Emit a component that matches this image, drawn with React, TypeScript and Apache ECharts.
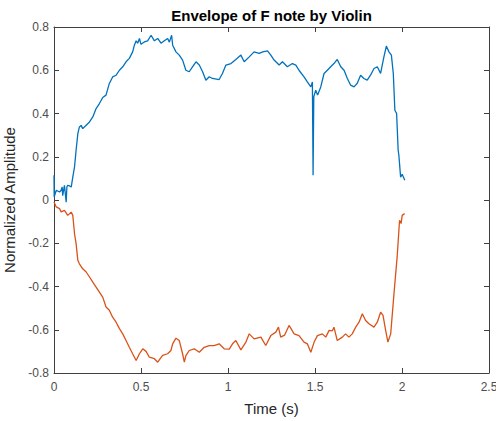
import React, { useEffect, useRef } from "react";
import * as echarts from "echarts";

// Upper envelope (time in seconds, normalized amplitude)
const upperTime = [
  0, 0.001, 0.013, 0.032, 0.041, 0.047, 0.05, 0.06, 0.07, 0.074, 0.079, 0.09, 0.099, 0.108,
  0.118, 0.127, 0.137, 0.146, 0.156, 0.165, 0.185, 0.204, 0.223, 0.242, 0.261, 0.28, 0.299,
  0.318, 0.337, 0.357, 0.376, 0.395, 0.414, 0.433, 0.452, 0.462, 0.472, 0.481, 0.491, 0.5,
  0.519, 0.538, 0.558, 0.577, 0.596, 0.615, 0.634, 0.653, 0.663, 0.676, 0.682, 0.701, 0.72,
  0.739, 0.758, 0.777, 0.796, 0.816, 0.835, 0.854, 0.873, 0.892, 0.911, 0.949, 0.968, 0.988,
  1.017, 1.045, 1.074, 1.093, 1.122, 1.15, 1.179, 1.2, 1.227, 1.246, 1.265, 1.294, 1.313,
  1.341, 1.37, 1.39, 1.408, 1.437, 1.456, 1.476, 1.485, 1.489, 1.493, 1.504, 1.515, 1.533,
  1.552, 1.571, 1.59, 1.609, 1.628, 1.648, 1.667, 1.686, 1.705, 1.724, 1.743, 1.762, 1.781,
  1.8, 1.819, 1.839, 1.858, 1.877, 1.896, 1.91, 1.925, 1.939, 1.95, 1.959, 1.969, 1.978,
  1.982, 1.992, 2.001, 2.016,
];
const upperValue = [
  0.115, 0.014, 0.045, 0.037, 0.045, 0.06, 0.02, 0.068, -0.01, 0.06, 0.068, 0.065, 0.06, 0.106,
  0.153, 0.23, 0.307, 0.338, 0.345, 0.33, 0.346, 0.361, 0.384, 0.423, 0.446, 0.474, 0.485,
  0.539, 0.569, 0.577, 0.6, 0.616, 0.639, 0.655, 0.685, 0.716, 0.736, 0.725, 0.747, 0.72,
  0.731, 0.736, 0.762, 0.736, 0.747, 0.725, 0.736, 0.747, 0.73, 0.762, 0.716, 0.685, 0.67,
  0.647, 0.6, 0.593, 0.616, 0.639, 0.624, 0.593, 0.554, 0.57, 0.562, 0.557, 0.585, 0.624,
  0.631, 0.65, 0.67, 0.639, 0.662, 0.685, 0.678, 0.685, 0.69, 0.67, 0.647, 0.624, 0.639,
  0.616, 0.631, 0.624, 0.6, 0.569, 0.546, 0.523, 0.546, 0.114, 0.477, 0.508, 0.485, 0.523,
  0.585, 0.6, 0.616, 0.631, 0.65, 0.616, 0.6, 0.562, 0.531, 0.523, 0.54, 0.577, 0.562,
  0.554, 0.577, 0.608, 0.616, 0.585, 0.662, 0.712, 0.685, 0.67, 0.585, 0.415, 0.4, 0.23,
  0.207, 0.106, 0.119, 0.091,
];

// Lower envelope
const lowerTime = [
  0, 0.013, 0.032, 0.041, 0.06, 0.079, 0.099, 0.108, 0.118, 0.127, 0.137, 0.146, 0.165, 0.185,
  0.204, 0.223, 0.242, 0.261, 0.28, 0.299, 0.318, 0.337, 0.357, 0.376, 0.395, 0.414, 0.433,
  0.452, 0.472, 0.491, 0.51, 0.529, 0.548, 0.577, 0.596, 0.624, 0.653, 0.672, 0.682, 0.701,
  0.72, 0.739, 0.749, 0.758, 0.777, 0.806, 0.835, 0.863, 0.892, 0.92, 0.949, 0.978, 1.007,
  1.026, 1.045, 1.074, 1.103, 1.122, 1.15, 1.189, 1.217, 1.246, 1.275, 1.29, 1.303, 1.325,
  1.351, 1.38, 1.408, 1.437, 1.456, 1.476, 1.495, 1.514, 1.542, 1.562, 1.581, 1.6, 1.609,
  1.628, 1.657, 1.676, 1.695, 1.714, 1.734, 1.753, 1.772, 1.791, 1.81, 1.839, 1.858, 1.877,
  1.891, 1.906, 1.919, 1.935, 1.954, 1.972, 1.986, 1.995, 2.001, 2.015,
];
const lowerValue = [
  -0.009, -0.032, -0.04, -0.055, -0.048, -0.071, -0.056, -0.071, -0.156, -0.202, -0.279, -0.295,
  -0.318, -0.333, -0.356, -0.38, -0.403, -0.426, -0.449, -0.495, -0.51, -0.542, -0.565, -0.595,
  -0.619, -0.65, -0.681, -0.711, -0.742, -0.711, -0.688, -0.7, -0.727, -0.734, -0.75, -0.719,
  -0.711, -0.696, -0.665, -0.639, -0.65, -0.711, -0.75, -0.72, -0.696, -0.688, -0.704, -0.681,
  -0.673, -0.673, -0.665, -0.688, -0.69, -0.665, -0.65, -0.693, -0.657, -0.619, -0.642, -0.634,
  -0.673, -0.627, -0.611, -0.588, -0.634, -0.625, -0.58, -0.619, -0.627, -0.657, -0.665, -0.704,
  -0.657, -0.627, -0.619, -0.634, -0.603, -0.605, -0.588, -0.65, -0.634, -0.619, -0.634, -0.619,
  -0.588, -0.565, -0.526, -0.557, -0.572, -0.588, -0.565, -0.519, -0.534, -0.603, -0.657, -0.619,
  -0.433, -0.264, -0.094, -0.109, -0.071, -0.063,
];

const FONT = "'Liberation Sans', Arial, Helvetica, sans-serif";
const AXIS_COLOR = "#404040";
const LABEL_COLOR = "#4d4d4d";

const pairs = (t: number[], v: number[]) => t.map((x, i) => [x, v[i]]);
const fmt = (v: number) => String(Math.round(v * 10) / 10);

export default function App() {
  const ref = useRef<HTMLDivElement>(null);

  useEffect(() => {
    if (!ref.current) return;
    const chart = echarts.init(ref.current, null, { renderer: "svg" });
    const line = { show: true, onZero: false, lineStyle: { color: AXIS_COLOR, width: 1 } };
    const tick = { show: true, inside: true, length: 5, lineStyle: { color: AXIS_COLOR } };
    chart.setOption({
      animation: false,
      backgroundColor: "#ffffff",
      grid: {
        left: 54,
        right: 7,
        top: 27,
        bottom: 48,
        containLabel: false,
        outerBoundsMode: "none",
      },
      graphic: [
        {
          type: "text",
          x: 271.5,
          y: 15,
          style: {
            text: "Envelope of F note by Violin",
            font: `bold 15px ${FONT}`,
            fill: "#000000",
            align: "center",
            verticalAlign: "middle",
          },
        },
      ],
      xAxis: [
        {
          type: "value",
          position: "bottom",
          min: 0,
          max: 2.5,
          interval: 0.5,
          name: "Time (s)",
          nameLocation: "middle",
          nameGap: 28,
          nameTextStyle: { fontFamily: FONT, fontSize: 15, color: "#262626" },
          axisLine: line,
          axisTick: tick,
          splitLine: { show: false },
          axisLabel: { fontFamily: FONT, fontSize: 12, color: LABEL_COLOR, margin: 8, formatter: fmt },
        },
        {
          type: "value",
          position: "top",
          min: 0,
          max: 2.5,
          interval: 0.5,
          axisLine: line,
          axisTick: tick,
          splitLine: { show: false },
          axisLabel: { show: false },
        },
      ],
      yAxis: [
        {
          type: "value",
          position: "left",
          min: -0.8,
          max: 0.8,
          interval: 0.2,
          name: "Normalized Amplitude",
          nameLocation: "middle",
          nameGap: 33,
          nameTextStyle: { fontFamily: FONT, fontSize: 15, color: "#262626" },
          axisLine: line,
          axisTick: tick,
          splitLine: { show: false },
          axisLabel: { fontFamily: FONT, fontSize: 12, color: LABEL_COLOR, margin: 5, formatter: fmt },
        },
        {
          type: "value",
          position: "right",
          min: -0.8,
          max: 0.8,
          interval: 0.2,
          axisLine: line,
          axisTick: tick,
          splitLine: { show: false },
          axisLabel: { show: false },
        },
      ],
      series: [
        {
          name: "Upper",
          type: "line",
          data: pairs(upperTime, upperValue),
          showSymbol: false,
          lineStyle: { color: "#0072BD", width: 1.3 },
          itemStyle: { color: "#0072BD" },
        },
        {
          name: "Lower",
          type: "line",
          data: pairs(lowerTime, lowerValue),
          showSymbol: false,
          lineStyle: { color: "#D95319", width: 1.3 },
          itemStyle: { color: "#D95319" },
        },
      ],
    });
    return () => chart.dispose();
  }, []);

  return (
    <div
      ref={ref}
      style={{ position: "fixed", left: 0, top: 0, width: 496, height: 421, background: "#fff" }}
    />
  );
}
